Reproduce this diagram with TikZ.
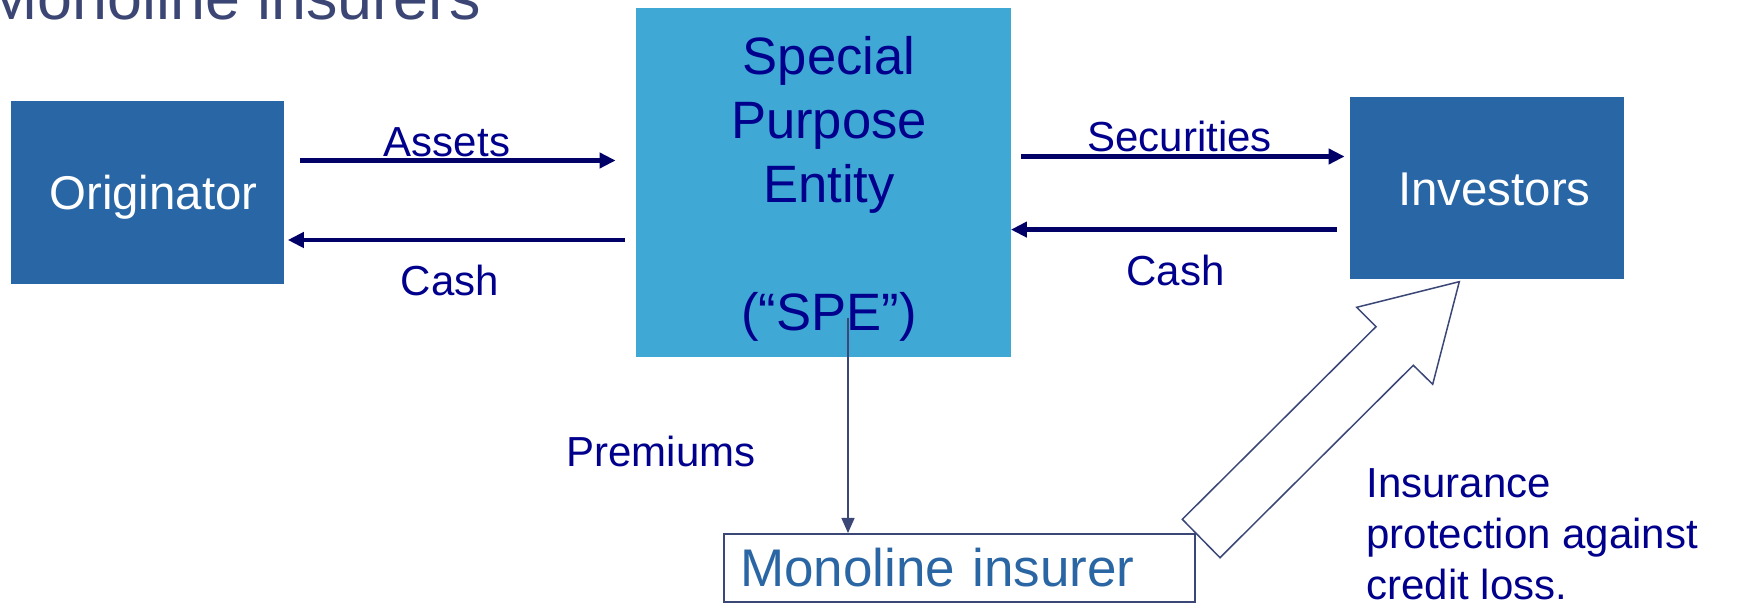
\documentclass[tikz,border=0pt]{standalone}
\usepackage{fontspec}
\setmainfont{Liberation Sans}
\usetikzlibrary{arrows.meta}
\definecolor{titlec}{RGB}{59,70,116}
\definecolor{navytext}{RGB}{0,0,140}
\definecolor{navyarrow}{RGB}{0,0,102}
\definecolor{spefill}{RGB}{63,168,213}
\definecolor{boxfill}{RGB}{40,102,165}
\definecolor{monotext}{RGB}{43,102,164}
\definecolor{slate}{RGB}{58,71,119}
\begin{document}
\begin{tikzpicture}[x=0.5pt,y=-0.5pt,
  darkbox/.style={rectangle, fill=boxfill, text=white,
    font=\fontsize{23.7pt}{28pt}\selectfont, text height=17pt, text depth=0pt,
    inner sep=0pt, minimum width=136.85pt, minimum height=91.35pt},
  spebox/.style={rectangle, fill=spefill, inner sep=0pt,
    minimum width=187.25pt, minimum height=174.25pt},
  spetext/.style={text=navytext, align=center, inner sep=0pt,
    font=\fontsize{26.3pt}{32pt}\selectfont},
  monobox/.style={rectangle, draw=slate, line width=1pt, fill=white,
    text=monotext, font=\fontsize{26.5pt}{32pt}\selectfont,
    text height=19pt, text depth=0pt, inner xsep=8pt, inner ysep=0pt,
    text width=219.5pt, align=left, minimum height=34pt},
  lab/.style={text=navytext, font=\fontsize{21pt}{25.5pt}\selectfont,
    inner sep=0pt, anchor=base},
  flow/.style={draw=navyarrow, line width=2.25pt,
    -{Triangle[length=8pt,width=7.5pt]}},
  thinflow/.style={draw=slate, line width=0.75pt,
    -{Triangle[length=7.5pt,width=6.5pt]}},
  hollow/.style={draw=slate, line width=0.75pt, fill=white, line join=miter}
]
\useasboundingbox (0,0) rectangle (1747,603);
\clip (0,0) rectangle (1747,603);

% title
\node[anchor=base west, inner sep=0pt, text=titlec,
  font=\fontsize{31.4pt}{38pt}\selectfont] (title) at (-15,20) {Monoline insurers};

% boxes
\node[darkbox] (orig) at (147.5,192.35) {\hspace*{6pt}Originator};
\node[spebox] (spe) at (823.25,182.75) {};
\node[spetext, anchor=north] (spelabel) at (829,36)
  {Special\\Purpose\\Entity\\[32pt](“SPE”)};
\node[darkbox, minimum width=137pt, minimum height=90.75pt] (inv) at (1487,188.25)
  {\hspace*{7.5pt}Investors};
\node[monobox] (mono) at (959.5,568) {Monoline insurer};

% flows between originator and SPE
\draw[flow, shorten <=7.5pt, shorten >=10pt] (orig.east |- 0,160.5) -- (spe.west |- 0,160.5);
\draw[flow, shorten <=5.5pt, shorten >=1.5pt] (spe.west |- 0,240) -- (orig.east |- 0,240);
\node[lab] (assets) at (447,157) {Assets};
\node[lab] (cash1) at (450,296) {Cash};

% flows between SPE and investors
\draw[flow, shorten <=5.25pt, shorten >=2.5pt] (spe.east |- 0,156.5) -- (inv.west |- 0,156.5);
\draw[flow, shorten <=6.5pt] (inv.west |- 0,229.6) -- (spe.east |- 0,229.6);
\node[lab] (secur) at (1179.5,152) {Securities};
\node[lab] (cash2) at (1175.5,285.4) {Cash};

% premiums
\coordinate (premstart) at (848,318);
\draw[thinflow] (premstart) -- (premstart |- mono.north);
\node[lab, anchor=base west] (prem) at (566,467) {Premiums};

% hollow block arrow from insurer to investors
\draw[hollow] (1459.3,281.7) -- (1432.7,384.3) -- (1413.3,365.3) -- (1220,557.7)
  -- (1182.3,519.3) -- (1376,326.7) -- (1356.7,307.3) -- cycle;

\node[text=navytext, font=\fontsize{21pt}{25.5pt}\selectfont, inner sep=0pt,
  align=left, anchor=north west] (ins) at (1366,468)
  {Insurance\\protection against\\credit loss.};
\end{tikzpicture}
\end{document}
